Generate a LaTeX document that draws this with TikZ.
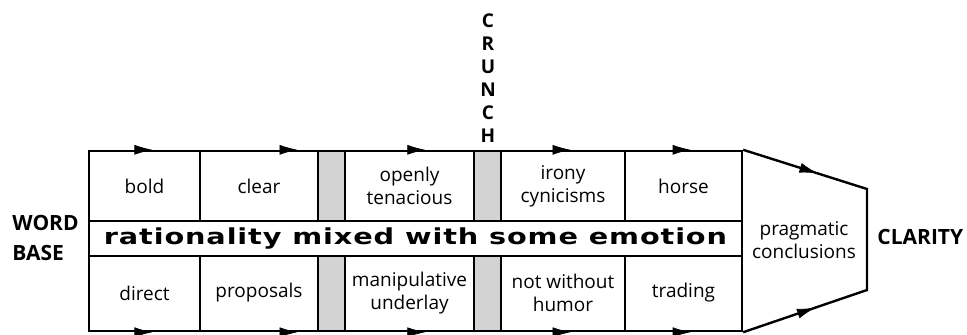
\documentclass[tikz,border=0pt]{standalone}
\usepackage{fontspec}
\setmainfont{Open Sans}
\newfontfamily\bandfont{DejaVu Sans}
\usepackage{graphicx}
\usetikzlibrary{positioning, arrows.meta, decorations.markings}
\definecolor{cgGray}{HTML}{D3D3D3}
\tikzset{
  cell/.style={
    rectangle, draw=black, line width=1.2pt,
    fill=white, inner sep=0pt,
    minimum width=#1,
    align=center,
    font=\fontsize{9.5}{11.5}\selectfont
  },
  toprow/.style={minimum height=35pt},
  botrow/.style={minimum height=38pt},
  gapcell/.style={cell=13.5pt, fill=cgGray},
  band/.style={
    rectangle, draw=black, line width=1.2pt,
    fill=white, inner sep=0pt,
    minimum width=326.5pt, minimum height=17.5pt
  },
  outline/.style={draw=black, line width=1.2pt, line join=miter},
  flowmark/.style={
    postaction={decorate},
    decoration={markings,
      mark=at position #1 with {\arrow{Latex[length=9pt, width=5pt]}}}
  },
  sidelabel/.style={inner sep=0pt, font=\fontsize{10.5}{15}\selectfont\bfseries}
}

\begin{document}
\begin{tikzpicture}[x=0.5pt, y=-0.5pt]
  \useasboundingbox (0,0) rectangle (967,334);
  % upper row
  \node[cell=55.5pt, toprow] (bold) at (144.5,186) {bold};
  \node[cell=59pt, toprow] (clear) at (259,186) {clear};
  \node[gapcell, toprow] (gapA) at (331.5,186) {};
  \node[cell=64.5pt, toprow] (openly) at (409.5,186) {openly\\tenacious};
  \node[gapcell, toprow] (gapB) at (487.5,186) {};
  \node[cell=62pt, toprow] (irony) at (563,186) {irony\\cynicisms};
  \node[cell=58.5pt, toprow] (horse) at (683.5,186) {horse};
  % lower row
  \node[cell=55.5pt, botrow] (direct) at (144.5,293) {direct};
  \node[cell=59pt, botrow] (proposals) at (259,293) {proposals};
  \node[gapcell, botrow] (gapC) at (331.5,293) {};
  \node[cell=64.5pt, botrow] (manip) at (409.5,293) {manipulative\\underlay};
  \node[gapcell, botrow] (gapD) at (487.5,293) {};
  \node[cell=62pt, botrow] (humor) at (563,293) {not without\\humor};
  \node[cell=58.5pt, botrow] (trading) at (683.5,293) {trading};
  % middle band
  \node[band] (mixed) at (415.5,238.5)
    {\resizebox{311.5pt}{\height}{\bandfont\fontsize{11}{12}\selectfont\bfseries\addfontfeatures{LetterSpace=3}rationality mixed with some emotion}};
  % arrows on the borders
  \path[flowmark=0.57] (bold.north west) -- (bold.north east);
  \path[flowmark=0.82] (clear.north west) -- (clear.north east);
  \path[flowmark=0.62] (openly.north west) -- (openly.north east);
  \path[flowmark=0.56] (irony.north west) -- (irony.north east);
  \path[flowmark=0.56] (horse.north west) -- (horse.north east);
  \path[flowmark=0.57] (direct.south west) -- (direct.south east);
  \path[flowmark=0.82] (proposals.south west) -- (proposals.south east);
  \path[flowmark=0.62] (manip.south west) -- (manip.south east);
  \path[flowmark=0.56] (humor.south west) -- (humor.south east);
  \path[flowmark=0.56] (trading.south west) -- (trading.south east);
  % funnel towards clarity
  \coordinate (funTop) at (867,189);
  \coordinate (funBot) at (867,290);
  \draw[outline] (horse.north east) -- (funTop) -- (funBot) -- (trading.south east);
  \path[flowmark=0.6] (horse.north east) -- (funTop);
  \path[flowmark=0.58] (trading.south east) -- (funBot);
  \node[align=center, inner sep=0pt, font=\fontsize{9.5}{11.5}\selectfont] (pragma) at (804,240) {pragmatic\\conclusions};
  % labels
  \node[sidelabel, align=left, anchor=west] (wordbase) at (12,237.5) {WORD\\BASE};
  \node[sidelabel, anchor=west] (clarity) at (877,237) {CLARITY};
  \node[inner sep=0pt, anchor=north, align=center, font=\fontsize{9.5}{11.5}\selectfont\bfseries] (crunch) at (488,13) {C\\R\\U\\N\\C\\H};
\end{tikzpicture}
\end{document}
